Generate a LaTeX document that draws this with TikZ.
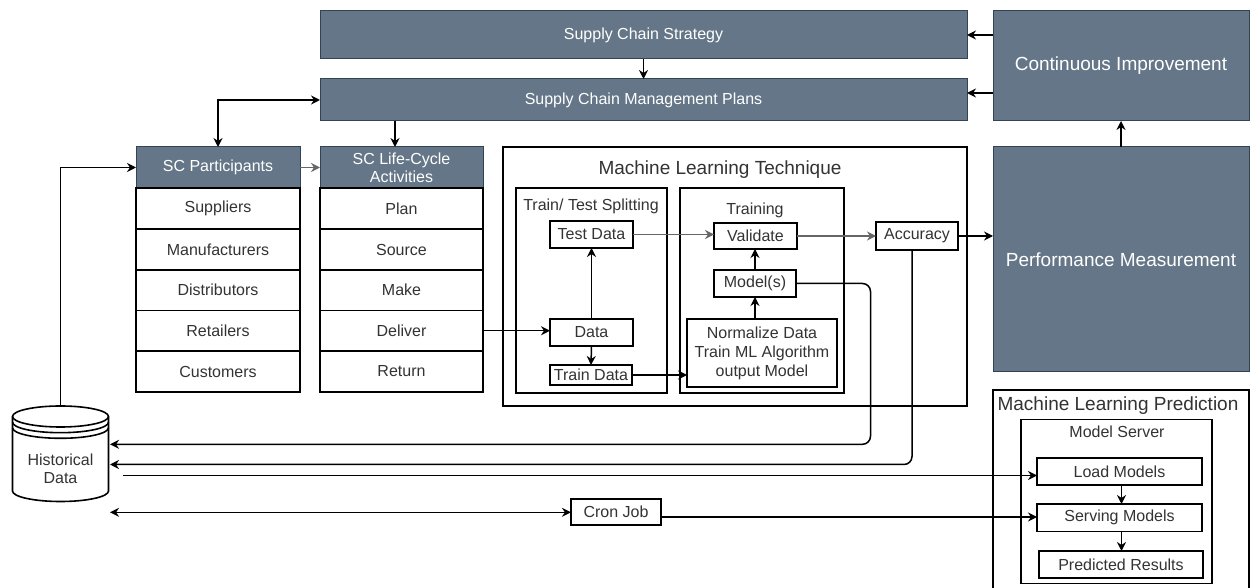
\documentclass[tikz,border=0pt]{standalone}
\usepackage{fontspec}
\setmainfont{Liberation Sans}
\usetikzlibrary{arrows.meta}
\definecolor{slate}{HTML}{647687}
\definecolor{slatedk}{HTML}{314354}
\definecolor{txt}{HTML}{333333}
\begin{document}
\begin{tikzpicture}[x=0.5pt,y=-0.5pt,
  every node/.style={font=\fontsize{8}{9}\selectfont, text=txt, inner sep=0pt, outer sep=0pt},
  rect/.style n args={4}{at={({(#1+#3)/2},{(#2+#4)/2})}, minimum width={(#3-#1)*0.5pt}, minimum height={(#4-#2)*0.5pt}},
  bx/.style={draw=black, line width=0.8pt, fill=white},
  sl/.style={draw=slatedk, line width=0.5pt, fill=slate, text=white},
  big/.style={font=\fontsize{9.5}{11}\selectfont},
  arr/.style={draw=black, line width=0.75pt, -{Stealth[length=4.5pt,width=4.5pt]}},
  arrb/.style={draw=black, line width=0.75pt, {Stealth[length=4.5pt,width=4.5pt]}-{Stealth[length=4.5pt,width=4.5pt]}},
  garr/.style={draw=black!60, line width=0.75pt, -{Stealth[length=4.5pt,width=4.5pt]}},
]
\path[use as bounding box, clip] (0,0) rectangle (1250,588);
\fill[white] (0,0) rectangle (1250,588);

% top strategy boxes
\node[sl, rect={320}{11}{967}{59}] (strat) {Supply Chain Strategy};
\node[sl, rect={320}{79}{967}{121}] (plans) {Supply Chain Management Plans};
\node[sl, big, rect={993}{11}{1249}{121}] (ci) {Continuous Improvement};
\node[sl, big, rect={993}{147}{1249}{372}] (pm) {Performance Measurement};

% SC participants
\node[sl, rect={136}{147}{300}{188}] (scph) {SC Participants};
\node[bx, rect={136}{188}{300}{229}] (sup) {Suppliers};
\node[bx, rect={136}{229}{300}{270}] (man) {Manufacturers};
\node[bx, rect={136}{270}{300}{310.5}] (dis) {Distributors};
\node[bx, rect={136}{310.5}{300}{351}] (ret) {Retailers};
\node[bx, rect={136}{351}{300}{392}] (cus) {Customers};

% SC life-cycle
\node[sl, rect={320}{147}{483}{188}, align=center] (sclch) {SC Life-Cycle\\Activities};
\node[bx, rect={320}{188}{483}{229}] (plan) {Plan};
\node[bx, rect={320}{229}{483}{270}] (source) {Source};
\node[bx, rect={320}{270}{483}{310.5}] (make) {Make};
\node[bx, rect={320}{310.5}{483}{351}] (deliver) {Deliver};
\node[bx, rect={320}{351}{483}{392}] (return) {Return};

% machine learning technique
\node[bx, rect={503}{147}{967}{406}] (mlt) {};
\node[big] (mltt) at (720,170) {Machine Learning Technique};
\node[bx, rect={516}{188}{667}{393}] (tts) {};
\node (ttst) at (591,206) {Train/ Test Splitting};
\node[bx, rect={680}{188}{844}{393}] (trn) {};
\node (trnt) at (755,210) {Training};

\node[bx, rect={550}{221}{633}{248}] (testd) {Test Data};
\node[bx, rect={550}{319}{633}{346}] (data) {Data};
\node[bx, rect={550}{365}{632}{385}] (traind) {Train Data};
\node[bx, rect={714}{223}{797}{249}] (valid) {Validate};
\node[bx, rect={714}{270}{796}{297}] (models) {Model(s)};
\node[bx, rect={687}{319}{837}{387}, align=center, font=\fontsize{8}{9.5}\selectfont] (norm) {Normalize Data\\Train ML Algorithm\\output Model};
\node[bx, rect={876}{222}{958}{250}] (acc) {Accuracy};

% machine learning prediction
\node[bx, rect={993}{390}{1249}{600}] (mlp) {};
\node[big] (mlpt) at (1118,406) {Machine Learning Prediction};
\node[bx, rect={1021}{419.5}{1212}{583.5}] (ms) {};
\node (mst) at (1117,432) {Model Server};
\node[bx, rect={1037}{458}{1202}{485}] (load) {Load Models};
\node[bx, rect={1037}{504}{1202}{531.5}] (serve) {Serving Models};
\node[bx, rect={1039}{551}{1203}{578}] (pred) {Predicted Results};

\node[bx, rect={571}{499}{661}{525}] (cron) {Cron Job};

% historical data cylinder
\filldraw[fill=white, draw=black, line width=0.8pt]
  (12.5,416.5) -- (12.5,491) arc[start angle=180, end angle=360, x radius=24pt, y radius=5.25pt]
  -- (108.5,416.5) arc[start angle=0, end angle=180, x radius=24pt, y radius=5.25pt] -- cycle;
\draw[line width=0.8pt] (12.5,416.5) arc[start angle=180, end angle=360, x radius=24pt, y radius=5.25pt];
\draw[line width=0.8pt] (12.5,422.2) arc[start angle=180, end angle=360, x radius=24pt, y radius=5.25pt];
\draw[line width=0.8pt] (12.5,427.8) arc[start angle=180, end angle=360, x radius=24pt, y radius=5.25pt];
\node[align=center] (hd) at (60.5,469) {Historical\\Data};
\coordinate (hdtop) at (60.5,406);
\coordinate (hdm) at (110,444.3);
\coordinate (hda) at (110,464.5);
\coordinate (hdl) at (123,475.5);
\coordinate (hdc) at (110,512.3);

% connectors
\draw[arr] (strat.south) -- (plans.north);
\draw[arr] (ci.west |- strat.east) -- (strat.east);
\draw[arr] (ci.west |- 0,93) -- (plans.east |- 0,93);
\draw[arr] (pm.north) -- (ci.south);
\draw[arr] (plans.south -| 395,0) -- (sclch.north -| 395,0);
\draw[arrb] (scph.north) |- (plans.west);
\draw[arr] (hdtop) |- (scph.west);
\draw[garr] (scph.east) -- (sclch.west);
\draw[arr] (deliver.east) -- (deliver.east -| data.west);
\draw[arr] (data.north) -- (testd.south);
\draw[arr] (data.south) -- (traind.north);
\draw[garr] (testd.east) -- (testd.east -| valid.west);
\draw[arr] (traind.east) -- (traind.east -| norm.west);
\draw[arr] (norm.north -| models.south) -- (models.south);
\draw[arr] (models.north) -- (valid.south -| models.north);
\draw[garr] (valid.east) -- (valid.east -| acc.west);
\draw[arr] (acc.east) -- (acc.east -| pm.west);
\draw[arr, rounded corners=4pt] (models.east) -| (870.5,444.3) -- (hdm);
\draw[arr, rounded corners=4pt] (acc.south -| 912,0) |- (hda);
\draw[arr] (hdl) -- (load.west |- hdl);
\draw[arrb] (hdc) -- (cron.west |- hdc);
\draw[arr] (cron.east |- 0,517) -- (serve.west |- 0,517);
\draw[arr] (load.south -| 1121.5,0) -- (serve.north -| 1121.5,0);
\draw[arr] (serve.south -| 1121.5,0) -- (pred.north -| 1121.5,0);
\end{tikzpicture}
\end{document}
